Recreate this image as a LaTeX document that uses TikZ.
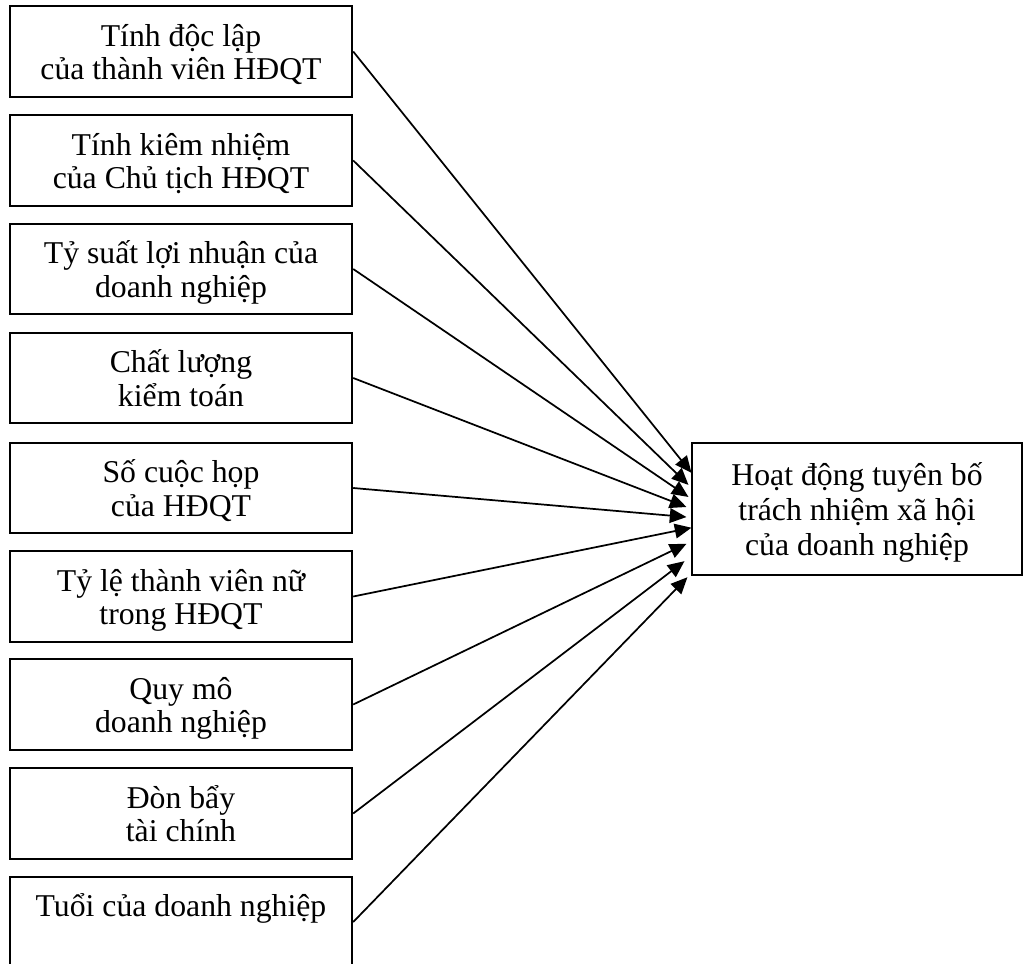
\documentclass[tikz,border=0pt]{standalone}
\usepackage{fontspec}
\setmainfont{Liberation Serif}
\usetikzlibrary{arrows.meta,positioning,calc}

\begin{document}
\begin{tikzpicture}[
  x=0.75pt, y=-0.75pt,
  factor/.style={draw, line width=1.3pt, align=center, font=\fontsize{23.8}{24.8}\selectfont, text depth=-5pt, minimum width=257pt, minimum height=68pt, inner sep=0pt},
  target/.style={draw, line width=1.3pt, align=center, font=\fontsize{23.8}{26.5}\selectfont, text depth=-3pt, minimum width=247pt, minimum height=99pt, inner sep=0pt},
  edge/.style={-{Triangle[length=12.5pt,width=11pt]}, line width=1.3pt}
]
\useasboundingbox (0,0) rectangle (1023,963);

\node[factor] (indep) at (181,51.5) {Tính độc lập\\của thành viên HĐQT};
\node[factor] (dual) at (181,160.5) {Tính kiêm nhiệm\\của Chủ tịch HĐQT};
\node[factor] (profit) at (181,269) {Tỷ suất lợi nhuận của\\doanh nghiệp};
\node[factor] (audit) at (181,378) {Chất lượng\\kiểm toán};
\node[factor] (meet) at (181,488) {Số cuộc họp\\của HĐQT};
\node[factor] (women) at (181,596.5) {Tỷ lệ thành viên nữ\\trong HĐQT};
\node[factor] (size) at (181,704.5) {Quy mô\\doanh nghiệp};
\node[factor] (lev) at (181,813.5) {Đòn bẩy\\ tài chính};
\node[factor] (age) at (181,922) {Tuổi của doanh nghiệp\\~};

\node[target] (csr) at (857,509) {Hoạt động tuyên bố\\trách nhiệm xã hội\\của doanh nghiệp};

\draw[edge] (indep.east) -- ($(csr.north west)!0.23!(csr.south west)$);
\draw[edge] (dual.east) -- ($(csr.north west)!0.32!(csr.south west)+(-3,0)$);
\draw[edge] (profit.east) -- ($(csr.north west)!0.41!(csr.south west)+(-3,0)$);
\draw[edge] (audit.east) -- ($(csr.north west)!0.485!(csr.south west)+(-5,0)$);
\draw[edge] (meet.east) -- ($(csr.north west)!0.56!(csr.south west)+(-5,0)$);
\draw[edge] (women.east) -- ($(csr.north west)!0.64!(csr.south west)$);
\draw[edge] (size.east) -- ($(csr.north west)!0.76!(csr.south west)+(-5,0)$);
\draw[edge] (lev.east) -- ($(csr.north west)!0.89!(csr.south west)+(-7,0)$);
\draw[edge] (age.east) -- ($(csr.north west)!1.01!(csr.south west)+(-4,0)$);
\end{tikzpicture}
\end{document}
